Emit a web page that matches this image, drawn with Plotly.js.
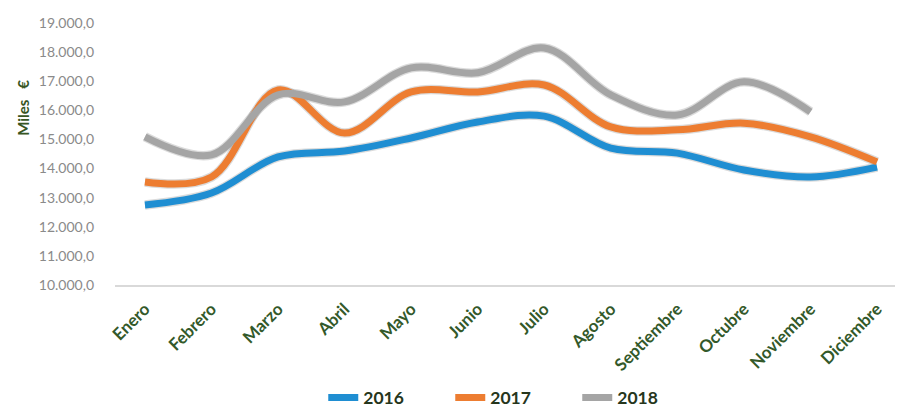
<!DOCTYPE html>
<html>
<head>
<meta charset="utf-8">
<script src="https://cdn.plot.ly/plotly-3.0.1.min.js"></script>
<style>html,body{margin:0;padding:0;background:#fff}#chart{width:900px;height:410px}</style>
</head>
<body>
<div id="chart"></div>
<script>
const months = ["Enero","Febrero","Marzo","Abril","Mayo","Junio","Julio","Agosto","Septiembre","Octubre","Noviembre","Diciembre"];
const v2016 = [12750,13160,14400,14600,15050,15600,15800,14700,14530,13950,13710,14050];
const v2017 = [13540,13710,16700,15220,16630,16630,16870,15430,15330,15560,15090,14230];
const v2018 = [15090,14470,16530,16290,17460,17290,18140,16530,15840,16980,15950];
const seriesNames = ["2016","2017","2018"];
const seriesColors = ["#1F8ED2","#ED7D31","#A5A5A5"];
const seriesData = [v2016, v2017, v2018];

const traces = [];
seriesData.forEach((d,i)=>{
  traces.push({x: months.slice(0,d.length), y: d, type:'scatter', mode:'lines',
    line:{shape:'spline', smoothing:1, width:9.5, color:'rgba(0,0,0,0.14)'},
    showlegend:false, hoverinfo:'skip'});
});
seriesData.forEach((d,i)=>{
  traces.push({x: months.slice(0,d.length), y: d, type:'scatter', mode:'lines', name: seriesNames[i],
    line:{shape:'spline', smoothing:1, width:7, color: seriesColors[i]}});
});

const layout = {
  width:900, height:410,
  margin:{l:115, r:5, t:23, b:125, autoexpand:false},
  paper_bgcolor:'#fff', plot_bgcolor:'#fff',
  separators: ',.',
  font:{family:'Lato, "Open Sans", sans-serif', color:'#595959'},
  showlegend:true,
  legend:{orientation:'h', x:0.267, xanchor:'left', y:-0.43, yanchor:'middle',
    font:{size:17.5, color:'#26361c', family:'"Liberation Sans Narrow", Lato, sans-serif', weight:'bold'},
    traceorder:'normal', entrywidth:82, entrywidthmode:'pixels'},
  xaxis:{type:'category', range:[-0.45,11.27], tickangle:-45, ticklabelstandoff:6, automargin:false,
    showline:true, linecolor:'#D9D9D9', linewidth:1.5, ticks:'', showgrid:false, zeroline:false,
    tickfont:{size:17, color:'#33592a', family:'Lato, sans-serif', weight:'bold'}},
  yaxis:{range:[10000,19000], dtick:1000, tickformat:',.1f', showgrid:false, zeroline:false, automargin:false,
    showline:false, ticks:'', ticklabelstandoff:20, tickfont:{size:14, color:'#8a8a8a'}},
  annotations:[{text:'Miles   €', xref:'paper', yref:'paper', x:-0.118, y:0.676,
    xanchor:'center', yanchor:'middle',
    textangle:-90, showarrow:false, font:{size:15, color:'#375623', family:'Lato, sans-serif', weight:'bold'}}]
};
Plotly.newPlot('chart', traces, layout, {displayModeBar:false, staticPlot:true});
</script>
</body>
</html>
